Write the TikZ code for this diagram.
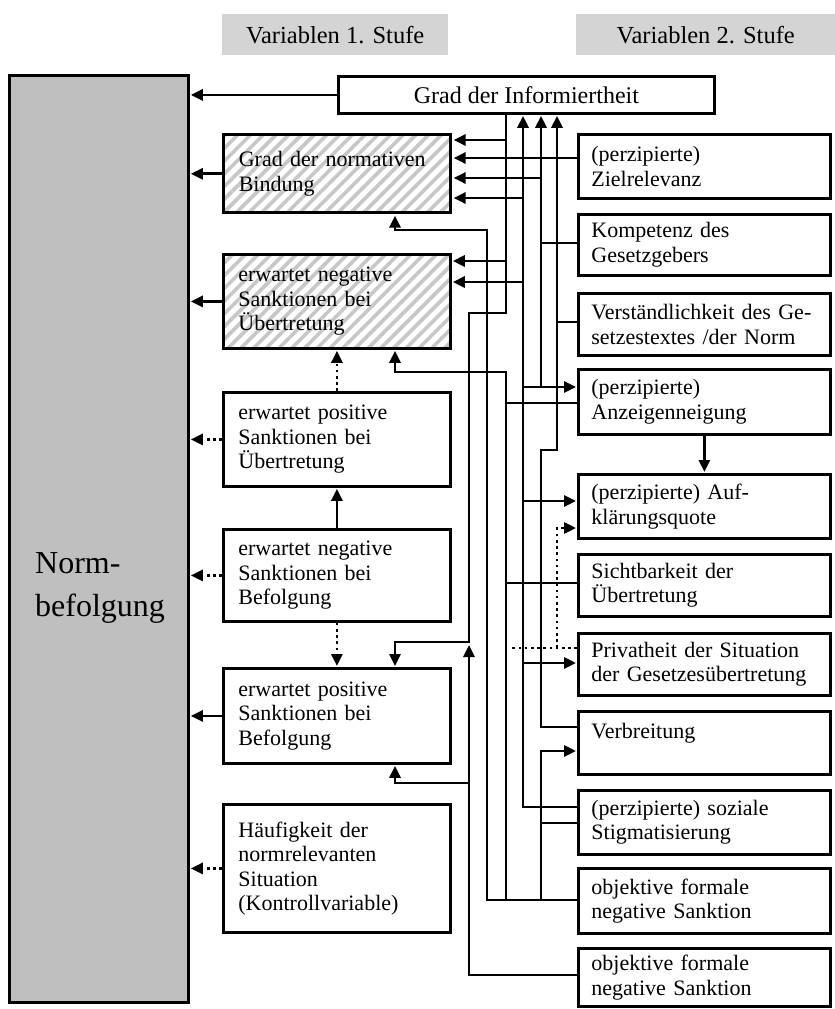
\documentclass[tikz,border=0pt]{standalone}
\usepackage{fontspec}
\setmainfont{Liberation Serif}
\usetikzlibrary{arrows.meta,patterns.meta,calc}
\begin{document}
\begin{tikzpicture}[x=1pt,y=-1pt,
  every node/.style={font=\fontsize{22}{24.5}\selectfont},
  lbox/.style={draw=black, line width=2.8pt, anchor=north west, minimum width=227pt,
    text width=197pt, inner xsep=15pt, inner ysep=0pt, align=left},
  rbox/.style={draw=black, line width=2.8pt, anchor=north west, minimum width=252pt,
    text width=226pt, inner xsep=13pt, inner ysep=0pt, align=left},
  hatch/.style={preaction={fill=white}, pattern={Lines[angle=45,distance=9pt,line width=3.6pt]}, pattern color=black!22},
  hdr/.style={fill=black!17, anchor=north west, inner sep=0pt, minimum height=41pt, font=\fontsize{24.5}{26}\selectfont},
  wire/.style={line width=2.8pt},
  dotw/.style={line width=2.8pt, dash pattern=on 2.6pt off 3.6pt},
  arr/.style={-{Triangle[length=12pt,width=11pt]}, shorten >=1pt}
]
\useasboundingbox (0,0) rectangle (835,1009);

% headers
\node[hdr, minimum width=226pt] (h1) at (222,14) {Variablen 1. Stufe};
\node[hdr, minimum width=259pt] (h2) at (576,14) {Variablen 2. Stufe};

% Normbefolgung
\node[draw=black, line width=2.8pt, fill=black!25, anchor=north west, inner sep=0pt,
  minimum width=179pt, minimum height=927pt] (nb) at (8,74) {};
\node[anchor=west, align=left, inner sep=0pt, font=\fontsize{32}{43}\selectfont] (nbt) at (35,588) {Norm-\\befolgung};

% level 1
\node[draw=black, line width=2.8pt, anchor=north west, inner sep=0pt, minimum width=376pt, minimum height=37pt, font=\fontsize{24}{26}\selectfont] (inf) at (337,75) {Grad der Informiertheit};
\node[lbox, hatch, minimum height=78pt] (bind) at (222,133) {\mbox{Grad der normativen}\\Bindung};
\node[lbox, hatch, minimum height=94pt] (nue) at (222,253) {erwartet negative\\Sanktionen bei\\Übertretung};
\node[lbox, minimum height=94pt] (pue) at (222,391) {erwartet positive\\Sanktionen bei\\Übertretung};
\node[lbox, minimum height=92pt] (nbf) at (222,528) {erwartet negative\\Sanktionen bei\\Befolgung};
\node[lbox, minimum height=95pt] (pbf) at (222,667) {erwartet positive\\Sanktionen bei\\Befolgung};
\node[lbox, minimum height=128pt] (hauf) at (222,803) {Häufigkeit der\\normrelevanten\\Situation\\(Kontrollvariable)};

% level 2
\node[rbox, minimum height=64pt] (ziel) at (577,133) {(perzipierte)\\Zielrelevanz};
\node[rbox, minimum height=61pt] (komp) at (577,213) {Kompetenz des\\Gesetzgebers};
\node[rbox, minimum height=62pt] (vers) at (577,292) {\mbox{Verständlichkeit des Ge-}\\\mbox{setzestextes /der Norm}};
\node[rbox, minimum height=65pt] (anz) at (577,368) {(perzipierte)\\Anzeigenneigung};
\node[rbox, minimum height=64pt] (aufk) at (577,473) {\mbox{(perzipierte) Auf-}\\klärungsquote};
\node[rbox, minimum height=62pt] (sicht) at (577,553) {Sichtbarkeit der\\Übertretung};
\node[rbox, minimum height=62pt] (priv) at (577,632) {\mbox{Privatheit der Situation}\\\mbox{der Gesetzesübertretung}};
\node[rbox, minimum height=63pt] (verb) at (577,710) {Verbreitung\\\mbox{}};
\node[rbox, minimum height=64pt] (stig) at (577,789) {\mbox{(perzipierte) soziale}\\Stigmatisierung};
\node[rbox, minimum height=65pt] (obj1) at (577,867) {objektive formale\\negative Sanktion};
\node[rbox, minimum height=58pt] (obj2) at (577,947) {objektive formale\\negative Sanktion};

% helper x positions
\coordinate (xQ) at (395,0);
\coordinate (xA) at (469,0);
\coordinate (xB) at (487,0);
\coordinate (xC) at (506,0);
\coordinate (xD) at (523,0);
\coordinate (xE) at (541,0);
\coordinate (xF) at (557,0);
\coordinate (xG) at (510,0);
\coordinate (jA) at (469,644);

% arrows into Normbefolgung
\draw[wire,arr] (inf.west) -- (inf.west -| nb.east);
\draw[wire,arr] (bind.west) -- (bind.west -| nb.east);
\draw[wire,arr] (nue.west) -- (nue.west -| nb.east);
\draw[dotw,arr] (pue.west) -- (pue.west -| nb.east);
\draw[dotw,arr] (nbf.west) -- (nbf.west -| nb.east);
\draw[wire,arr] (pbf.west) -- (pbf.west -| nb.east);
\draw[dotw,arr] (hauf.west) -- (hauf.west -| nb.east);

% between level-1 boxes
\draw[dotw,arr] (pue.north) -- (nue.south);
\draw[wire,arr] (nbf.north) -- (pue.south);
\draw[dotw,arr] (nbf.south) -- (pbf.north);

% wire C (Informiertheit)
\draw[wire,arr] (inf.south -| xC) -- (xC |- 0,313) -- (xA |- 0,313) -- (xA |- 0,642) -- (xQ |- 0,642) -- (pbf.north -| xQ);
\draw[wire,arr] (xC |- 0,140) -- (bind.east |- 0,140);
\draw[wire,arr] (xC |- 0,261) -- (nue.east |- 0,261);

% wire D
\draw[wire,arr] (stig.west |- 0,807) -- (xD |- 0,807) -- (inf.south -| xD);
\draw[wire,arr] (xD |- 0,198) -- (bind.east |- 0,198);
\draw[wire,arr] (xD |- 0,282) -- (nue.east |- 0,282);
\draw[wire,arr] (xD |- 0,387) -- (anz.west |- 0,387);
\draw[wire,arr] (xD |- 0,501) -- (aufk.west |- 0,501);
\draw[wire,arr] (xD |- 0,663) -- (priv.west |- 0,663);

% wire E
\draw[wire,arr] (komp.west |- 0,243) -- (xE |- 0,243) -- (inf.south -| xE);
\draw[wire] (xE |- 0,243) -- (xE |- 0,387);
\draw[wire,arr] (xE |- 0,178) -- (bind.east |- 0,178);

% wire F
\draw[wire,arr] (verb.west |- 0,727) -- (xE |- 0,727) -- (xE |- 0,450) -- (xF |- 0,450) -- (inf.south -| xF);
\draw[wire] (vers.west |- 0,322) -- (xF |- 0,322);

% Zielrelevanz
\draw[wire,arr] (ziel.west |- 0,158) -- (bind.east |- 0,158);

% wire B
\draw[wire,arr] (obj1.west |- 0,900) -- (xB |- 0,900) -- (xB |- 0,230) -- (xQ |- 0,230) -- (bind.south -| xQ);

% wire C'
\draw[wire,arr] (xC |- 0,900) -- (xC |- 0,372) -- (xQ |- 0,372) -- (nue.south -| xQ);
\draw[wire] (xC |- 0,403) -- (anz.west |- 0,403);
\draw[wire] (xC |- 0,583) -- (sicht.west |- 0,583);

% wire E''
\draw[wire,arr] (xE |- 0,900) -- (xE |- 0,751) -- (verb.west |- 0,751);
\draw[wire] (xE |- 0,823) -- (stig.west |- 0,823);

% wire A'
\draw[wire,arr] (obj2.west |- 0,975) -- (xA |- 0,975) -- (jA);
\draw[wire,arr] (xA |- 0,783) -- (xQ |- 0,783) -- (pbf.south -| xQ);

% dotted Privatheit
\draw[dotw] (priv.west |- 0,648) -- (xG |- 0,648);
\draw[dotw,arr] (xF |- 0,648) -- (xF |- 0,528) -- (aufk.west |- 0,528);

% Anzeigenneigung -> Aufklaerungsquote
\draw[wire,arr] (anz.south) -- (aufk.north);
\end{tikzpicture}
\end{document}
